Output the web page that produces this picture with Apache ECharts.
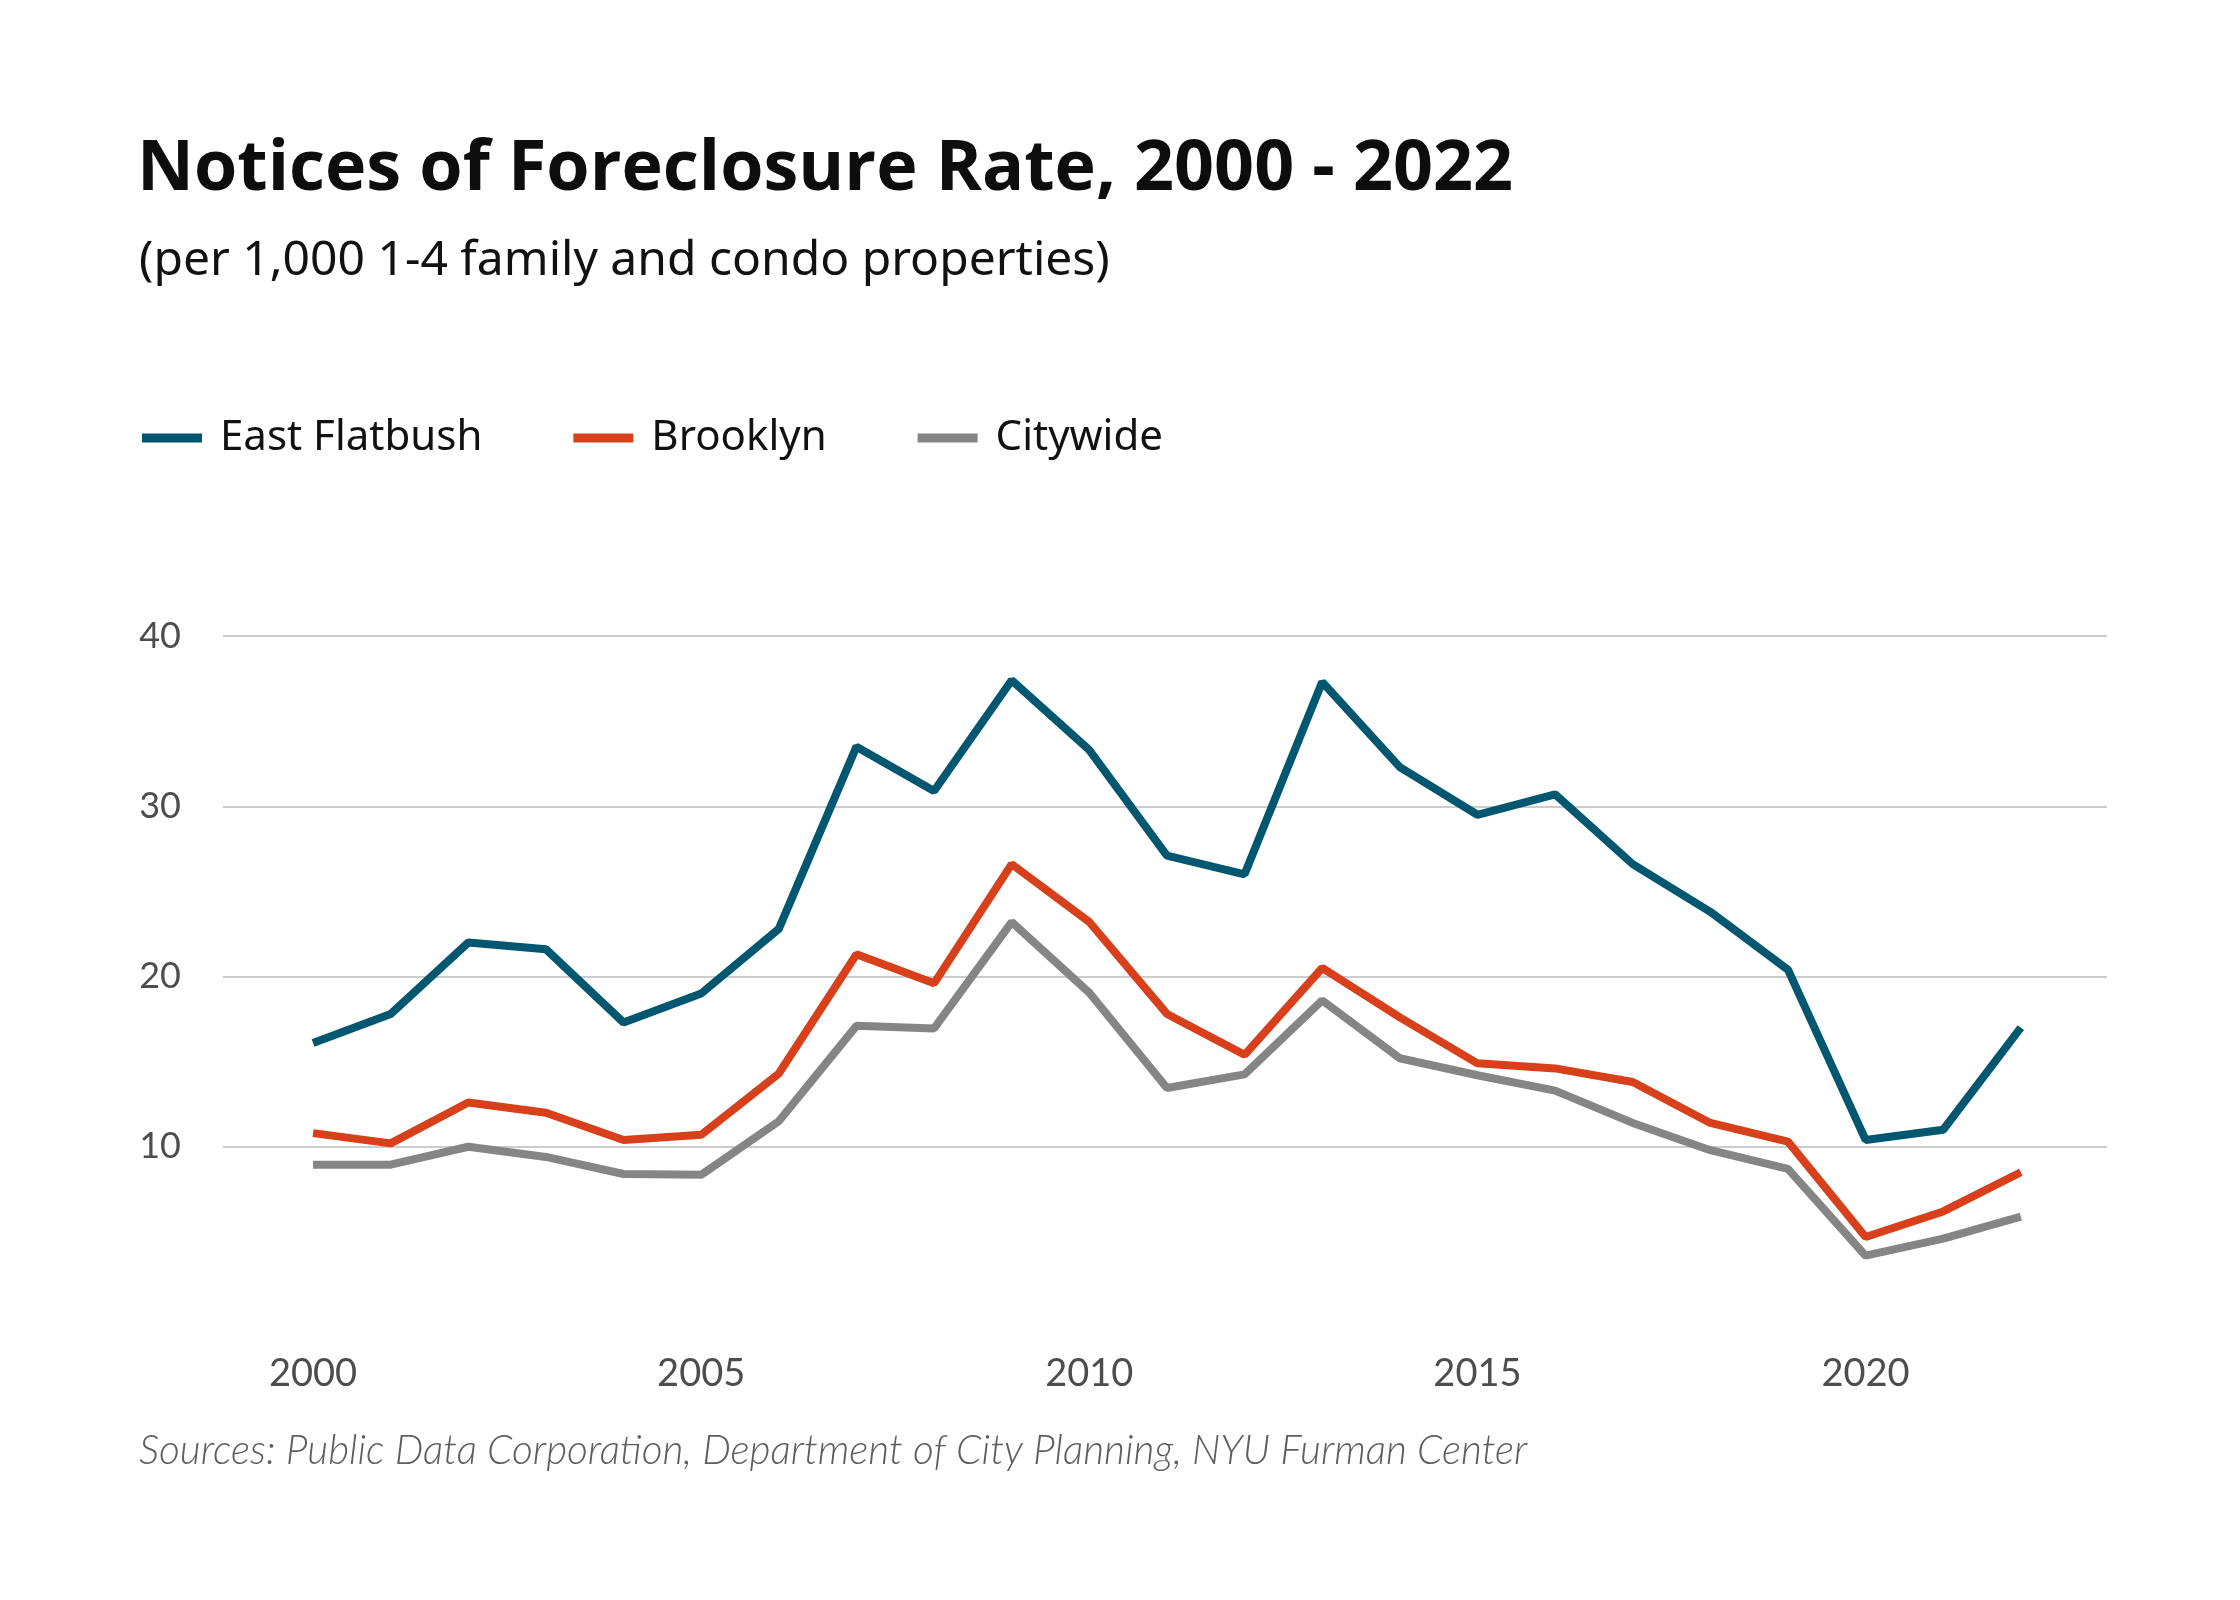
<!DOCTYPE html>
<html lang="en">
<head>
<meta charset="UTF-8">
<title>Notices of Foreclosure Rate</title>
<script src="https://cdn.jsdelivr.net/npm/echarts@6.0.0/dist/echarts.min.js"></script>
<style>
  html, body { margin: 0; padding: 0; background: #fff; }
  #chart { width: 2240px; height: 1600px; }
</style>
</head>
<body>
<div id="chart"></div>
<script>
// data
var years = [2000, 2001, 2002, 2003, 2004, 2005, 2006, 2007, 2008, 2009, 2010,
             2011, 2012, 2013, 2014, 2015, 2016, 2017, 2018, 2019, 2020, 2021, 2022];
var eastFlatbush = [16.1, 17.8, 22.0, 21.6, 17.3, 19.0, 22.8, 33.5, 30.9, 37.4, 33.3,
                    27.1, 26.0, 37.3, 32.3, 29.5, 30.7, 26.6, 23.8, 20.4, 10.4, 11.0, 17.0];
var brooklyn = [10.8, 10.2, 12.6, 12.0, 10.4, 10.7, 14.3, 21.3, 19.6, 26.6, 23.2,
                17.8, 15.4, 20.5, 17.6, 14.9, 14.6, 13.8, 11.4, 10.3, 4.7, 6.2, 8.5];
var citywide = [8.95, 8.95, 10.0, 9.4, 8.4, 8.35, 11.5, 17.1, 16.95, 23.2, 19.05,
                13.45, 14.25, 18.6, 15.2, 14.2, 13.3, 11.4, 9.8, 8.7, 3.6, 4.6, 5.9];
var xTicks = [2000, 2005, 2010, 2015, 2020];
var yTicks = [10, 20, 30, 40];

var seriesNames = ['East Flatbush', 'Brooklyn', 'Citywide'];
var seriesColors = ['#00576f', '#d7401a', '#858585'];

function pairs(vals) {
  return years.map(function (y, i) { return [y, vals[i]]; });
}

var chart = echarts.init(document.getElementById('chart'));

var option = {
  backgroundColor: '#ffffff',
  animation: false,
  title: [
    {
      text: 'Notices of Foreclosure Rate, 2000 - 2022',
      left: 132, top: 130,
      textStyle: { fontFamily: 'Open Sans', fontWeight: 700, fontSize: 70, color: '#0d0d0d' }
    },
    {
      text: '(per 1,000 1-4 family and condo properties)',
      left: 134, top: 232,
      textStyle: { fontFamily: 'Noto Sans', fontWeight: 400, fontSize: 48, color: '#111' }
    },
    {
      text: 'Sources: Public Data Corporation, Department of City Planning, NYU Furman Center',
      left: 134, top: 1425,
      textStyle: { fontFamily: 'Lato', fontStyle: 'italic', fontWeight: 300, fontSize: 40.5, color: '#5e5e5e' }
    }
  ],
  legend: {
    data: seriesNames,
    left: 137, top: 412,
    icon: 'rect',
    itemWidth: 60, itemHeight: 9,
    itemGap: 91,
    textStyle: { fontFamily: 'Noto Sans', fontSize: 42, color: '#111', padding: [0, 0, 0, 13] }
  },
  grid: { left: 223, right: 133, top: 636, bottom: 283 },
  xAxis: {
    type: 'value',
    min: 1998.84, max: 2023.11,
    axisLine: { show: false },
    axisTick: { show: false },
    splitLine: { show: false },
    axisLabel: {
      customValues: xTicks,
      margin: 38,
      fontFamily: 'Lato', fontSize: 38, color: '#4d4d4d',
      formatter: function (v) { return String(v); }
    }
  },
  yAxis: {
    type: 'value',
    min: 0, max: 40, interval: 10,
    axisLine: { show: false },
    axisTick: { show: false },
    splitLine: { show: true, showMinLine: false, lineStyle: { color: '#cccccc', width: 2 } },
    axisLabel: {
      showMinLabel: false,
      margin: 42,
      fontFamily: 'Lato', fontSize: 36, color: '#4d4d4d',
      formatter: function (v) { return yTicks.indexOf(v) >= 0 ? String(v) : ''; }
    }
  },
  series: [
    { name: seriesNames[0], type: 'line', data: pairs(eastFlatbush), symbol: 'none',
      lineStyle: { width: 8, color: seriesColors[0] }, itemStyle: { color: seriesColors[0] } },
    { name: seriesNames[1], type: 'line', data: pairs(brooklyn), symbol: 'none',
      lineStyle: { width: 8, color: seriesColors[1] }, itemStyle: { color: seriesColors[1] } },
    { name: seriesNames[2], type: 'line', data: pairs(citywide), symbol: 'none',
      lineStyle: { width: 8, color: seriesColors[2] }, itemStyle: { color: seriesColors[2] } }
  ]
};

chart.setOption(option);
</script>
</body>
</html>
